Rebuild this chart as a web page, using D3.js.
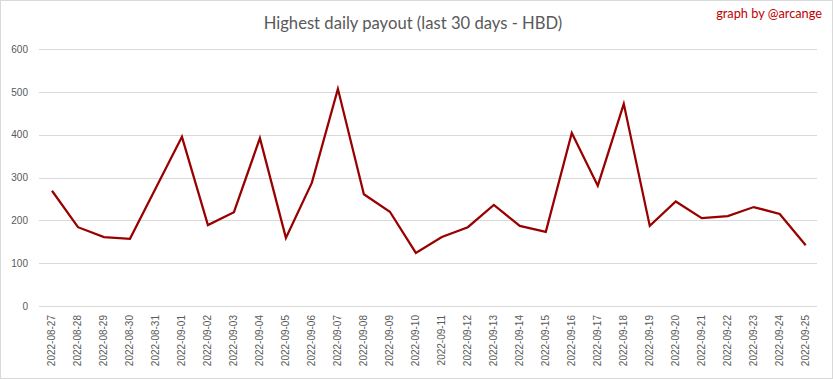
<!DOCTYPE html>
<html><head><meta charset="utf-8">
<script src="https://cdn.jsdelivr.net/npm/d3@7"></script>
<style>
html,body{margin:0;padding:0;background:#fff;}
svg{display:block;}
</style></head>
<body>
<svg id="chart" width="833" height="379"></svg>
<script>
const dates = ["2022-08-27","2022-08-28","2022-08-29","2022-08-30","2022-08-31","2022-09-01","2022-09-02","2022-09-03","2022-09-04","2022-09-05","2022-09-06","2022-09-07","2022-09-08","2022-09-09","2022-09-10","2022-09-11","2022-09-12","2022-09-13","2022-09-14","2022-09-15","2022-09-16","2022-09-17","2022-09-18","2022-09-19","2022-09-20","2022-09-21","2022-09-22","2022-09-23","2022-09-24","2022-09-25"];
const payouts = [269,184,161,157,276,395,189,219,392,159,288,507,261,220,124,161,184,236,187,173,404,281,472,187,244,205,210,231,215,142];
const yTicks = [0,100,200,300,400,500,600];
const titleText = "Highest daily payout (last 30 days - HBD)";
const creditText = "graph by @arcange";

const W = 833, H = 379;
const svg = d3.select("#chart");
svg.append("rect").attr("x",0.5).attr("y",0.5).attr("width",W-1).attr("height",H-1)
  .attr("fill","#fff").attr("stroke","#d9d9d9");

const x = d3.scaleBand().domain(dates).range([39, 818.7]);
const y = d3.scaleLinear().domain([0,600]).range([306, 49]);

// gridlines
svg.append("g").selectAll("line").data(yTicks).join("line")
  .attr("x1",39).attr("x2",817).attr("y1",d=>Math.round(y(d))+0.5).attr("y2",d=>Math.round(y(d))+0.5)
  .attr("stroke","#d9d9d9").attr("stroke-width",1);

// y axis labels
const yAxis = d3.axisLeft(y).tickValues(yTicks).tickSize(0).tickPadding(0);
const gy = svg.append("g").attr("transform","translate(28,0)").call(yAxis);
gy.select(".domain").remove();
gy.selectAll("text").attr("fill","#595959").style("font-family","Liberation Sans, Arial, sans-serif").style("font-size","10px");

// x axis labels
const xAxis = d3.axisBottom(x).tickSize(0).tickPadding(0);
const gx = svg.append("g").attr("transform","translate(0,306)").call(xAxis);
gx.select(".domain").remove();
gx.selectAll("text")
  .attr("fill","#595959")
  .style("font-family","Liberation Sans, Arial, sans-serif").style("font-size","10px")
  .attr("text-anchor","end").attr("dy","0.35em").attr("dx",0)
  .attr("transform","translate(0,9) rotate(-90)").attr("y",0).attr("x",0);

// line
const line = d3.line().x((d,i)=>x(dates[i]) + x.bandwidth()/2).y(d=>y(d));
svg.append("path").datum(payouts).attr("d",line)
  .attr("fill","none").attr("stroke","#990000").attr("stroke-width",2.25)
  .attr("stroke-linejoin","miter");

// title
const t = svg.append("text").attr("x",413).attr("y",29).attr("text-anchor","middle")
  .attr("fill","#595959").style("font-family","Lato, 'Open Sans', sans-serif").style("font-size","17px")
  .text(titleText);
const tw = t.node().getComputedTextLength();
t.style("font-size", (17*299/tw).toFixed(2)+"px");

const c = svg.append("text").attr("x",822).attr("y",18).attr("text-anchor","end")
  .attr("fill","#c00000").style("font-family","Lato, 'Open Sans', sans-serif").style("font-size","12px")
  .text(creditText);
const cw = c.node().getComputedTextLength();
c.style("font-size", (12*106/cw).toFixed(2)+"px");
</script>
</body></html>
